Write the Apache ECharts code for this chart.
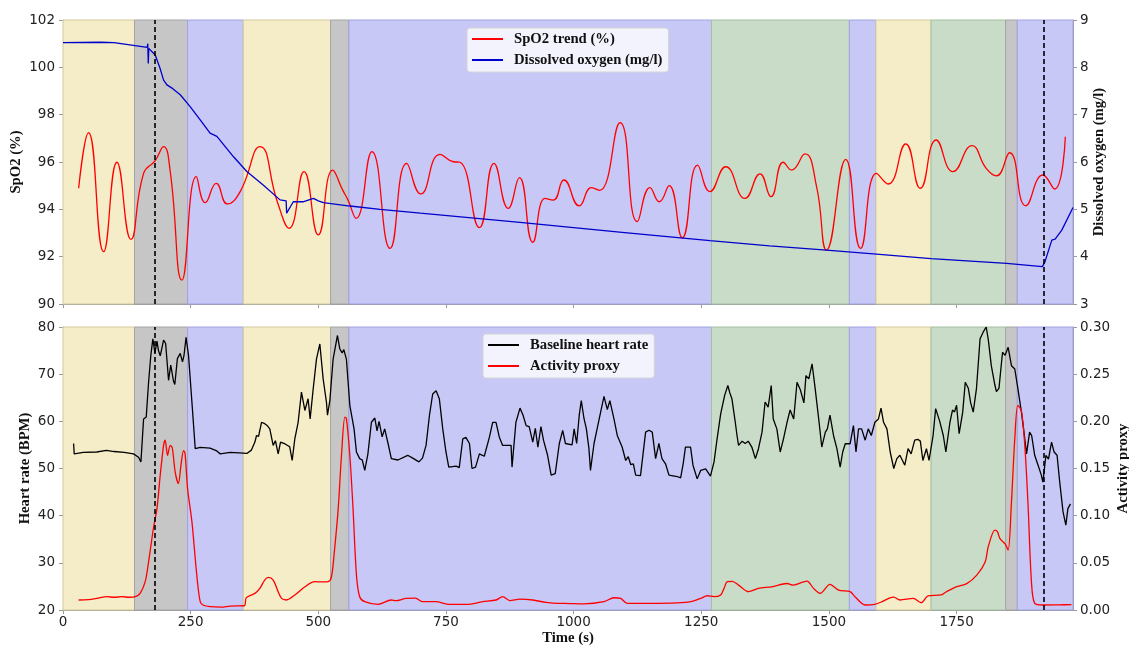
<!DOCTYPE html>
<html>
<head>
<meta charset="utf-8">
<title>SpO2, dissolved oxygen, heart rate and activity</title>
<script src="https://cdn.jsdelivr.net/npm/echarts/dist/echarts.min.js"></script>
<style>
  html, body { margin: 0; padding: 0; background: #ffffff; }
  #chart { width: 1129px; height: 647px; }
</style>
</head>
<body>
<div id="chart"></div>
<script>
// ---- time axis ----
const X_MAX = 1978;
const xTicks = [0, 250, 500, 750, 1000, 1250, 1500, 1750];

// ---- protocol phases (seconds) ----
const phaseEdges = [0, 140, 244, 353, 524, 560, 1270, 1540, 1592, 1700, 1846, 1869, 1978];
const phaseKinds = ['sand', 'grey', 'lilac', 'sand', 'grey', 'lilac', 'sage', 'lilac', 'sand', 'sage', 'grey', 'lilac'];
const eventTimes = [180, 1920];

// ---- SpO2 trend (%) : [t, value] ----
const spo2Trend = [
  [30.6, 94.89], [50, 97.24], [79.5, 92.21], [105.6, 95.99], [133, 92.73], [157.8, 95.52],
  [180.6, 96.06], [197, 96.65], [210, 95.6], [233, 91.01], [261, 95.38], [278.5, 94.28],
  [300, 95.10], [322, 94.23], [347, 94.75], [386, 96.65], [420, 94.3], [443, 93.2],
  [472, 95.59], [500, 92.92], [528, 95.66], [548, 94.8], [558, 94.4], [574, 93.62],
  [605, 96.44], [640.6, 92.35], [673, 95.94], [700.6, 94.65], [738.5, 96.32], [764.6, 96.01],
  [777.6, 95.99], [815.5, 93.23], [844, 95.94], [872, 94.04], [893.8, 95.34], [920, 92.61],
  [944, 94.46], [960, 94.39], [981, 95.24], [1011, 94.15], [1035, 94.92], [1051, 94.80],
  [1091, 97.66], [1124.6, 93.48], [1149.5, 94.92], [1167.8, 94.32], [1187, 95.0], [1212.8, 92.8],
  [1242.8, 95.87], [1267, 94.75], [1298, 95.8], [1335.5, 94.46], [1365, 95.5], [1386.4, 94.54],
  [1410.5, 95.99], [1427, 95.66], [1453, 96.34], [1475.8, 94.96], [1495.4, 92.28], [1533, 96.11],
  [1562, 92.35], [1593, 95.52], [1616, 95.07], [1650.5, 96.76], [1679, 94.89], [1710, 96.93],
  [1743, 95.59], [1780, 96.69], [1808, 95.73], [1828, 95.41], [1854, 96.39], [1885.5, 94.15],
  [1919, 95.45], [1942, 94.86], [1963, 97.07]
];

// ---- dissolved oxygen (mg/l) : [t, value] ----
const dissolvedOxygen = [
  [0, 8.52], [73, 8.53], [100, 8.52], [165, 8.42], [166, 8.50], [167, 8.08], [168, 8.40],
  [180.6, 8.26], [190, 7.98], [197, 7.73], [203.5, 7.63], [215, 7.55], [229.6, 7.42],
  [249, 7.17], [268.7, 6.89], [288, 6.61], [301.4, 6.54], [334, 6.11], [360, 5.80],
  [392.6, 5.51], [425, 5.20], [437, 5.18], [438, 4.92], [441, 4.95], [451, 5.16], [470, 5.16],
  [490.5, 5.23], [500, 5.18], [510, 5.14], [562, 5.07], [621, 5.00], [700, 4.92], [900, 4.72],
  [1100, 4.51], [1267, 4.34], [1384, 4.23], [1495, 4.14], [1587, 4.06], [1700, 3.96],
  [1848, 3.86], [1918, 3.79], [1923, 3.89], [1936.5, 4.35], [1943, 4.37], [1956, 4.56], [1978, 5.04]
];

// ---- baseline heart rate (BPM) : [t, value] ----
const heartRate = [
  [20.7, 55.3], [22, 53.1], [40, 53.4], [66, 53.5], [85, 53.85], [100, 53.6], [120, 53.4],
  [138, 53.1], [148, 52.4], [152.6, 51.4], [157.8, 60.5], [163, 60.9], [167.6, 68.3], [172, 74],
  [176, 77.5], [180, 74.5], [184, 77.0], [187, 75], [190.4, 73.9], [197, 77.2], [201, 76.5],
  [206.7, 68.7], [211, 71.9], [216.5, 68.5], [219, 67.8], [224, 73.3], [229.6, 74.4], [234, 72.6],
  [237, 74], [241, 77.8], [245.8, 74], [252, 64.8], [259, 54.2], [262, 53.9], [268.7, 54.5],
  [288, 54.3], [300, 53.8], [308, 53.1], [327.5, 53.4], [345, 53.3], [360, 53.2], [369, 53.9],
  [375.8, 55.6], [379, 57.0], [383, 56.8], [388.8, 59.8], [395, 59.5], [400, 59.1], [405, 58.4],
  [411.6, 54.9], [416, 55.9], [421.4, 53.1], [426, 55.6], [435, 55.2], [444, 54.6], [448.8, 51.7],
  [454, 56.3], [460.5, 59.8], [467, 66.2], [473.7, 62.3], [480, 64.8], [484, 60.5], [490, 66.9],
  [496.4, 73.2], [503, 76.4], [509.5, 69.0], [516, 64.0], [518, 61.3], [522.6, 64.4], [529, 73.2],
  [537.5, 78.2], [542, 75.4], [546.7, 74.5], [550, 75.2], [555, 73.2], [561.7, 63.4], [570, 58.4],
  [574.7, 53.5], [581, 52.1], [586, 51.8], [591, 49.6], [597, 53.0], [604, 59.8], [610.7, 60.7],
  [615, 58.0], [619, 60.0], [625, 56.7], [630, 58.4], [636.7, 55.25], [643, 52.1], [656, 51.8],
  [675, 52.8], [685, 52.2], [697, 51.4], [704, 52.2], [711, 54.9], [717.7, 61.3], [724, 65.8],
  [730.7, 66.5], [737, 64.8], [743.7, 58.4], [750, 53.5], [755.5, 50.3], [770, 50.5], [776, 50.2],
  [783, 56.3], [789, 56.6], [796, 55.3], [801, 50.0], [808, 50.3], [815.5, 53.1], [825, 52.6],
  [835, 56.6], [841.5, 59.8], [848, 59.8], [854.6, 56.6], [861, 54.9], [877.5, 54.9], [879.4, 50.3],
  [887, 59.8], [895, 62.8], [901, 61.3], [907, 59.1], [913, 58.9], [920, 55.6], [925, 58.5],
  [930, 54.5], [936, 58.9], [941, 56.0], [949, 52.8], [956, 48.6], [964, 48.9], [972, 55.3],
  [978.6, 58.1], [984, 55.3], [987.8, 55.0], [997, 55.0], [1001, 58.4], [1006, 55.3], [1011, 61.3],
  [1015, 64.4], [1020.5, 60.5], [1025, 58.4], [1030, 54.2], [1033, 49.6], [1040, 55.3], [1046, 58.4],
  [1053, 62.0], [1059.5, 65.3], [1066, 62.5], [1071, 64.4], [1079, 60.5], [1085.5, 57.0],
  [1095, 54.55], [1102, 51.7], [1107, 52.5], [1112, 50.8], [1117, 51.0], [1121.5, 48.6], [1131, 48.5],
  [1141, 57.7], [1147.6, 58.1], [1154, 57.7], [1160.6, 52.1], [1167, 55.3], [1173, 52.1], [1180, 51.0],
  [1186.7, 48.6], [1203, 48.3], [1209.6, 48.0], [1214.7, 51.1], [1219, 54.55], [1229, 54.55],
  [1233.8, 50.7], [1242, 47.8], [1248.8, 49.6], [1258.6, 49.9], [1268, 48.4], [1275, 51.4],
  [1281, 56.3], [1288, 61.6], [1295.8, 65.5], [1302, 67.6], [1306, 66.0], [1310, 64.8],
  [1316.6, 59.8], [1320, 57.0], [1323, 54.9], [1330, 55.8], [1336, 55.3], [1342, 55.8], [1349, 54.55],
  [1356, 52.1], [1362, 54.2], [1369, 57.7], [1375, 64.1], [1381, 63.0], [1387, 67.6], [1391, 60.5],
  [1398, 58.4], [1404.6, 53.5], [1411, 56.3], [1418, 59.8], [1424, 62.4], [1431, 60.5], [1437.5, 68.3],
  [1444, 66.7], [1451, 63.9], [1455, 69.7], [1460.6, 69.0], [1467, 72.2], [1473, 67.0], [1480, 60.5],
  [1486, 54.55], [1493, 57.7], [1497, 58.4], [1502, 61.3], [1509, 57.0], [1515.6, 54.2], [1522, 50.3],
  [1527, 53.5], [1532, 55.25], [1541.6, 55.25], [1548, 59.1], [1553, 53.5], [1558, 58.4], [1564, 58.4],
  [1571, 56.0], [1577, 58.4], [1583, 57.0], [1590, 59.8], [1597, 60.5], [1602, 62.8], [1607, 59.8],
  [1613.6, 58.4], [1620, 53.5], [1627, 50.0], [1633, 52.1], [1639, 52.8], [1648.6, 50.7], [1655, 54.2],
  [1661, 53.1], [1668, 56.0], [1674, 56.2], [1679, 55.8], [1684, 51.7], [1691, 54.2], [1696, 51.7],
  [1704, 57.0], [1709, 62.7], [1717, 60.0], [1724, 57.0], [1729, 53.5], [1737, 59.8], [1742, 62.4],
  [1746, 62.0], [1750, 63.4], [1755, 57.4], [1762, 61.95], [1767, 68.3], [1773, 67.0], [1777.6, 63.9],
  [1782.6, 61.95], [1789, 67.0], [1796, 77.5], [1802, 78.9], [1808, 80.0], [1812, 77.4], [1818, 71.8],
  [1825, 67.7], [1828, 66.3], [1833, 67.0], [1840, 74.65], [1845, 74.0], [1851, 75.7], [1857.5, 71.8],
  [1864, 71.1], [1870, 67.0], [1877, 61.95], [1882, 57.7], [1887, 53.1], [1893, 57.7], [1897, 57.0],
  [1903, 52.8], [1909.6, 50.7], [1916, 48.6], [1919, 47.1], [1925, 52.8], [1930, 52.0], [1936, 55.6],
  [1941, 53.5], [1946.8, 52.8], [1952, 47.1], [1958.5, 40.8], [1964, 38.0], [1968, 41.5], [1973, 42.5]
];

// ---- activity proxy : [t, value] ----
const activityProxy = [
  [30.6, 0.0106], [50, 0.0110], [66.5, 0.0123], [86, 0.0141], [100, 0.0135], [115, 0.0141],
  [130, 0.0135], [141.5, 0.0141], [151, 0.0176], [161, 0.030], [167.6, 0.051], [177, 0.0864],
  [184, 0.1075], [190.4, 0.1428], [197, 0.1745], [200, 0.180], [204.8, 0.164], [210, 0.1745],
  [214, 0.172], [219.8, 0.146], [226, 0.134], [231, 0.1534], [236, 0.169], [239, 0.166],
  [244, 0.1286], [252.5, 0.0934], [262, 0.037], [268.7, 0.0088], [275, 0.005], [288, 0.0035],
  [310, 0.003], [327.5, 0.0042], [355, 0.0045], [359, 0.0131], [375.8, 0.0176], [385.5, 0.0229],
  [395, 0.0317], [402, 0.0345], [411.6, 0.0317], [421.4, 0.0194], [428, 0.0123], [437.6, 0.0106],
  [454, 0.0159], [473.7, 0.0246], [493, 0.030], [510, 0.0298], [519.3, 0.0302], [525.8, 0.0352],
  [532, 0.0652], [539, 0.1075], [545.4, 0.164], [552, 0.2045], [555, 0.203], [561.7, 0.164],
  [568, 0.1075], [574.7, 0.037], [581, 0.0141], [591, 0.0088], [617, 0.006], [643, 0.0106],
  [652, 0.0099], [672, 0.0123], [690, 0.0125], [704.6, 0.0088], [730, 0.0088], [757, 0.006],
  [790, 0.006], [822, 0.0088], [848, 0.0106], [861, 0.0141], [875, 0.0100], [895, 0.0115],
  [920, 0.0106], [946, 0.008], [970, 0.007], [981, 0.007], [1020, 0.0065], [1059.5, 0.0088],
  [1079, 0.013], [1092, 0.0123], [1105, 0.007], [1150, 0.007], [1203, 0.0075], [1229, 0.0088],
  [1248.8, 0.0123], [1261.7, 0.0151], [1275, 0.0141], [1288, 0.016], [1294.6, 0.0229], [1301, 0.030],
  [1310.6, 0.0303], [1323, 0.0264], [1342.7, 0.0194], [1362, 0.0229], [1388, 0.0246], [1418, 0.0281],
  [1430, 0.0264], [1457, 0.0307], [1470, 0.0229], [1483, 0.0176], [1502, 0.0271], [1519, 0.0211],
  [1541.6, 0.0194], [1551, 0.0141], [1571, 0.0053], [1590, 0.006], [1604, 0.0088], [1617, 0.0123],
  [1627, 0.0137], [1639, 0.0106], [1665, 0.0123], [1681, 0.0077], [1694, 0.015], [1720, 0.016],
  [1730, 0.0194], [1749, 0.0246], [1770, 0.028], [1789.5, 0.037], [1806, 0.051], [1812, 0.067],
  [1825, 0.0846], [1830, 0.083], [1835, 0.0757], [1845, 0.070], [1851, 0.0635], [1857.5, 0.1146],
  [1864, 0.1815], [1870, 0.217], [1877, 0.211], [1883.6, 0.1745], [1890, 0.111], [1896.6, 0.030],
  [1903, 0.007], [1919, 0.0053], [1950, 0.0055], [1975, 0.0057]
];

// ---- styling ----
const phaseFill = { sand: '#f5ecc8', grey: '#c6c6c6', lilac: '#c8c8f6', sage: '#c9dcc8' };
const phaseLine = { sand: '#d3c99c', grey: '#a4a4a4', lilac: '#a2a2e4', sage: '#a3c0a2' };
const SPINE = '#9a9a9a';
const TICK_FONT = { fontFamily: 'DejaVu Sans', fontSize: 13.5, color: '#222' };
const TITLE_FONT = { fontFamily: 'Liberation Serif', fontWeight: 'bold', fontSize: 14.7, color: '#111' };

const phaseAreas = phaseKinds.map((kind, i) => [
  { xAxis: phaseEdges[i], itemStyle: { color: phaseFill[kind], borderColor: phaseLine[kind], borderWidth: 1 } },
  { xAxis: phaseEdges[i + 1] }
]);

function bottomAxis(gridIndex, withLabels) {
  return {
    type: 'value', gridIndex, min: 0, max: X_MAX, position: 'bottom',
    axisLine: { show: true, onZero: false, lineStyle: { color: SPINE, width: 1 } },
    axisTick: { show: true, customValues: xTicks, length: 4, lineStyle: { color: SPINE } },
    axisLabel: Object.assign({ show: withLabels, customValues: xTicks, margin: 5, formatter: v => String(v) }, TICK_FONT),
    splitLine: { show: false }
  };
}
function topSpine(gridIndex) {
  return {
    type: 'value', gridIndex, min: 0, max: X_MAX, position: 'top',
    axisLine: { show: true, onZero: false, lineStyle: { color: '#c8c8c8', width: 1 } },
    axisTick: { show: false }, axisLabel: { show: false }, splitLine: { show: false }
  };
}
function valueAxis(gridIndex, side, min, max, interval, name, gap, margin, fmt) {
  return {
    type: 'value', gridIndex, position: side, min, max, interval,
    name, nameLocation: 'middle', nameRotate: 90, nameGap: gap, nameMoveOverlap: false,
    nameTextStyle: TITLE_FONT,
    axisLine: { show: true, onZero: false, lineStyle: { color: SPINE, width: 1 } },
    axisTick: { show: true, length: 4, lineStyle: { color: SPINE } },
    axisLabel: Object.assign({ margin, formatter: fmt }, TICK_FONT),
    splitLine: { show: false }
  };
}

const xAxes = [bottomAxis(0, false), bottomAxis(1, true), topSpine(0), topSpine(1)];
xAxes[1].name = 'Time (s)';
xAxes[1].nameLocation = 'middle';
xAxes[1].nameGap = 21;
xAxes[1].nameMoveOverlap = false;
xAxes[1].nameTextStyle = TITLE_FONT;

const yAxes = [
  valueAxis(0, 'left', 90, 102, 2, 'SpO2 (%)', 39, 8, v => String(v)),
  valueAxis(0, 'right', 3, 9, 1, 'Dissolved oxygen (mg/l)', 19, 7, v => String(v)),
  valueAxis(1, 'left', 20, 80, 10, 'Heart rate (BPM)', 30, 8, v => String(v)),
  valueAxis(1, 'right', 0, 0.30, 0.05, 'Activity proxy', 43, 7, v => v.toFixed(2))
];

function backdrop(xi, yi) {
  return {
    type: 'line', xAxisIndex: xi, yAxisIndex: yi, data: [], z: 0, silent: true,
    markArea: { silent: true, data: phaseAreas }
  };
}
function events(xi, yi) {
  return {
    type: 'line', xAxisIndex: xi, yAxisIndex: yi, data: [], z: 4, silent: true,
    markLine: {
      silent: true, symbol: ['none', 'none'], label: { show: false },
      lineStyle: { color: '#000', type: [5, 3], width: 1.6 },
      data: eventTimes.map(t => ({ xAxis: t }))
    }
  };
}
function trace(name, xi, yi, data, color, width, smooth) {
  return {
    name, type: 'line', xAxisIndex: xi, yAxisIndex: yi, data, smooth, z: 3,
    showSymbol: false, symbol: 'none',
    lineStyle: { color, width }, itemStyle: { color }
  };
}

const legendBase = {
  orient: 'vertical', icon: 'rect', itemWidth: 31, itemHeight: 2, itemGap: 5,
  padding: [3, 6, 4, 5], backgroundColor: 'rgba(255,255,255,0.78)',
  borderColor: '#d4d4d4', borderWidth: 1, borderRadius: 3,
  textStyle: Object.assign({ lineHeight: 16, padding: [0, 0, 0, 6] }, TITLE_FONT)
};

const option = {
  animation: false,
  backgroundColor: '#ffffff',
  grid: [
    { left: 63, right: 56, top: 20, height: 284, outerBoundsMode: 'none' },
    { left: 63, right: 56, top: 327, height: 283, outerBoundsMode: 'none' }
  ],
  xAxis: xAxes,
  yAxis: yAxes,
  legend: [
    Object.assign({ left: 467, top: 28, data: ['SpO2 trend (%)', 'Dissolved oxygen (mg/l)'] }, legendBase),
    Object.assign({ left: 483, top: 334, data: ['Baseline heart rate', 'Activity proxy'] }, legendBase)
  ],
  series: [
    backdrop(0, 0),
    backdrop(1, 2),
    trace('SpO2 trend (%)', 0, 0, spo2Trend, '#ff0000', 1.3, 0.5),
    trace('Dissolved oxygen (mg/l)', 0, 1, dissolvedOxygen, '#0000cc', 1.3, false),
    trace('Baseline heart rate', 1, 2, heartRate, '#000000', 1.3, false),
    trace('Activity proxy', 1, 3, activityProxy, '#ff0000', 1.3, 0.3),
    events(0, 0),
    events(1, 2)
  ]
};

const chart = echarts.init(document.getElementById('chart'), null, { renderer: 'canvas' });
chart.setOption(option);
</script>
</body>
</html>
